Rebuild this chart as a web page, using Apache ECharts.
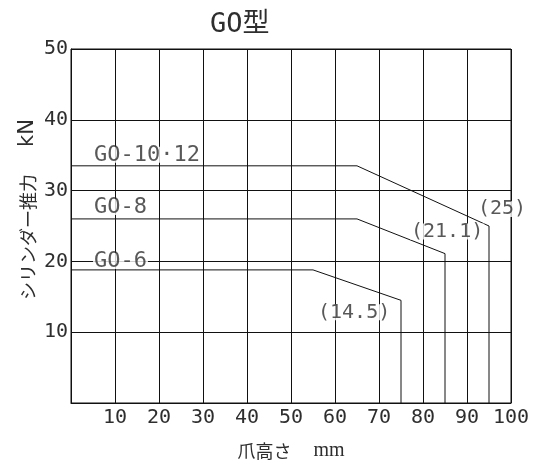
<!DOCTYPE html>
<html><head><meta charset="utf-8">
<script src="https://cdn.jsdelivr.net/npm/echarts@6/dist/echarts.min.js"></script>
<style>html,body{margin:0;padding:0;background:#fff}#c{width:540px;height:471px}</style>
</head><body><div id="c"></div>
<script>
// ---- data ----
const chartTitle = 'GO型';
const xAxisName = '爪高さ';
const xAxisUnit = 'mm';
const yAxisName = 'シリンダー推力';
const yAxisUnit = 'kN';
const xTickLabels = [10, 20, 30, 40, 50, 60, 70, 80, 90, 100];
const yTickLabels = [10, 20, 30, 40, 50];
const seriesNames = ['GO-10·12', 'GO-8', 'GO-6'];
const go1012X = [0, 65, 95, 95];
const go1012Y = [33.5, 33.5, 25, 0];
const go8X = [0, 65, 85, 85];
const go8Y = [26, 26, 21.1, 0];
const go6X = [0, 55, 75, 75];
const go6Y = [18.8, 18.8, 14.5, 0];

// ---- build ----
const MONO = "'DejaVu Sans Mono', 'Noto Sans CJK JP', monospace";
const CJK = "'Noto Sans CJK JP', sans-serif";
const INK = '#111';
const TXT = '#2e2e2e';
const xs = [go1012X, go8X, go6X];
const ys = [go1012Y, go8Y, go6Y];
const pairs = (X, Y) => X.map((x, i) => [x, Y[i]]);

const nameOffsets = [[17, -11], [17, -12], [17, -9]];
const endOffsets = [[-17, -17], [-40, -22], [-89, 12]];
const labelBase = {
  show: true, position: 'right', color: TXT, fontFamily: MONO,
  backgroundColor: '#fff', padding: [0, 1], lineHeight: 16
};

const series = [];
seriesNames.forEach((nm, k) => {
  series.push({
    name: nm, type: 'line', data: pairs(xs[k], ys[k]),
    symbol: 'none', lineStyle: { color: INK, width: 1 }, z: 3, silent: true
  });
});
seriesNames.forEach((nm, k) => {
  const X = xs[k], Y = ys[k];
  series.push({
    type: 'scatter', symbolSize: 0, z: 5, silent: true,
    data: [
      { value: [X[0], Y[0]], label: Object.assign({}, labelBase, { fontSize: 22, offset: nameOffsets[k], formatter: nm }) },
      { value: [X[2], Y[2]], label: Object.assign({}, labelBase, { fontSize: 20, offset: endOffsets[k], formatter: '(' + Y[2] + ')' }) }
    ]
  });
});

const chart = echarts.init(document.getElementById('c'), null, { renderer: 'canvas' });
chart.setOption({
  backgroundColor: '#fff',
  animation: false,
  title: {
    text: chartTitle, left: 205, top: 6,
    textStyle: { fontSize: 27, fontWeight: 'normal', color: TXT, fontFamily: MONO }
  },
  grid: { left: 71, right: 29, top: 49, bottom: 68, show: true, borderColor: INK, borderWidth: 1, backgroundColor: 'transparent' },
  xAxis: {
    type: 'value', min: 0, max: 100, interval: 10,
    name: xAxisName + '{u|' + xAxisUnit + '}', nameLocation: 'middle', nameGap: 38,
    nameTextStyle: {
      fontSize: 18, color: TXT, fontFamily: CJK,
      rich: { u: { fontSize: 20, fontFamily: "'Liberation Serif', serif", color: TXT, padding: [0, 0, 0, 22] } }
    },
    axisLine: { lineStyle: { color: INK, width: 1 } },
    axisTick: { show: false },
    axisLabel: {
      margin: 5, fontSize: 20, color: TXT, fontFamily: MONO,
      formatter: v => xTickLabels.includes(v) ? String(v) : ''
    },
    splitLine: { show: true, lineStyle: { color: INK, width: 1 } }
  },
  yAxis: {
    type: 'value', min: 0, max: 50, interval: 10,
    axisLine: { show: true, lineStyle: { color: INK, width: 1 } },
    axisTick: { show: false },
    axisLabel: {
      margin: 3, fontSize: 20, color: TXT, fontFamily: MONO,
      formatter: v => yTickLabels.includes(v) ? String(v) : ''
    },
    splitLine: { show: true, lineStyle: { color: INK, width: 1 } }
  },
  graphic: [{
    type: 'text', x: 28, y: 237, rotation: Math.PI / 2,
    style: { text: yAxisName, font: "18px 'Noto Sans CJK JP'", fill: TXT, align: 'center', verticalAlign: 'middle' }
  }, {
    type: 'text', x: 28, y: 133, rotation: Math.PI / 2,
    style: { text: yAxisUnit, font: "21px 'DejaVu Sans'", fill: TXT, align: 'center', verticalAlign: 'middle' }
  }],
  series: series
});
</script>
</body></html>
